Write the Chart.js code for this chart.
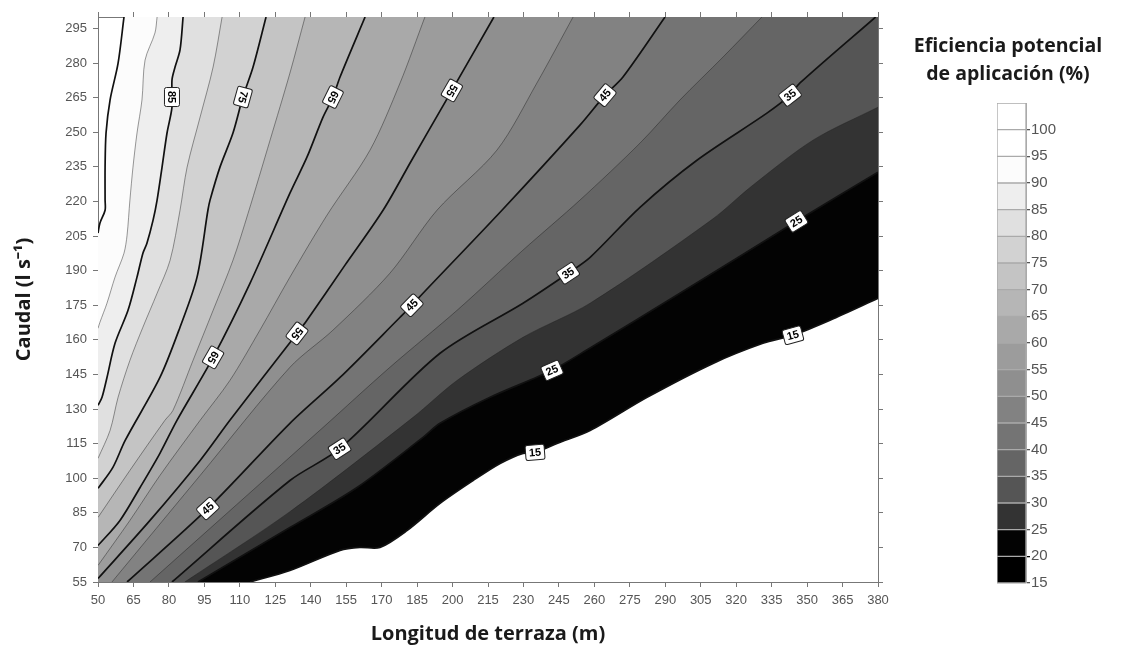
<!DOCTYPE html>
<html lang="es">
<head>
<meta charset="utf-8">
<title>Eficiencia potencial de aplicación</title>
<script src="https://cdn.jsdelivr.net/npm/chart.js@4.4.1/dist/chart.umd.min.js"></script>
<style>
  html, body { margin: 0; padding: 0; background: #fff; }
  #wrap { position: relative; width: 1126px; height: 650px; overflow: hidden; }
  #grafico { position: absolute; left: 0; top: 0; }
  #barra { position: absolute; left: 900px; top: 0; }
  #titulo { position: absolute; left: 898px; width: 220px; top: 31px; text-align: center;
            font: bold 19.5px 'Open Sans', sans-serif; line-height: 28px; color: #1a1a1a; }
</style>
</head>
<body>
<div id="wrap">
  <canvas id="grafico" width="900" height="650"></canvas>
  <canvas id="barra" width="226" height="650"></canvas>
  <div id="titulo">Eficiencia potencial<br>de aplicación (%)</div>
</div>
<script>
// ejes
var xTicks = [50, 65, 80, 95, 110, 125, 140, 155, 170, 185, 200, 215, 230, 245, 260, 275, 290, 305, 320, 335, 350, 365, 380];
var yTicks = [55, 70, 85, 100, 115, 130, 145, 160, 175, 190, 205, 220, 235, 250, 265, 280, 295];
var xMin = 50, xMax = 380, yMin = 55, yMax = 300;

// isolineas: [longitud (m), caudal (l/s)]
var c95 = [[50,206.3],[50.8,210.6],[53,216.2],[53,220.6],[53,234.9],[53.4,249.7],[55.1,264],[58.5,280],[61,300]];
var c90 = [[50,165],[50.8,167.6],[53.8,175.9],[57.2,187.2],[61,197.6],[62.3,205.4],[63.5,220.6],[64.8,234.9],[66.5,249.7],[68.6,264],[69.9,281.3],[74.1,293.1],[75,300]];
var c85 = [[50,131.6],[51.7,135.1],[53.8,143.7],[57.2,158.5],[62.7,172.8],[66.5,187.2],[69,197.6],[70.7,201.9],[73.3,211.9],[75,220.6],[77.1,234.9],[79.2,249.7],[81.3,260.9],[81.3,272.7],[82.6,278.3],[84.7,285.7],[86,300]];
var c80 = [[50,108.6],[55.1,120.7],[58.5,135.1],[63.5,151.1],[69,165.5],[75,180.2],[80.5,194.5],[84.7,216.2],[87.7,234.9],[93.2,256.6],[98.7,278.3],[102.5,300]];
var c75 = [[50,95.6],[56.3,104.7],[61.5,116.4],[76.2,143.7],[84.7,165.5],[91.9,187.2],[96.5,216.2],[97.4,220.6],[101.6,234.9],[107.1,249.7],[111.3,265.3],[115.6,278.3],[121.1,300]];
var c70 = [[50,83],[63.5,103.4],[78.3,125.1],[81.7,129.4],[90.2,151.1],[98.7,172.8],[107.1,194.5],[113.5,214.9],[122.8,246.6],[131.2,275.7],[137.6,300]];
var c65 = [[50,70.8],[59.3,81.7],[67.8,96],[76.2,110.8],[83.4,125.1],[98.7,152.4],[114.3,184.5],[131.2,223.6],[138.4,239.2],[145.2,256.6],[149.4,265.3],[152.4,274],[163,300]];
var c60 = [[50,62.2],[63.5,81.7],[76.2,101.2],[93.2,125.1],[105.8,142.4],[118.5,164.2],[131.2,187.2],[146.9,214.1],[165.1,242.3],[177.8,271.4],[188.3,300]];
var c55 = [[50,56.5],[72,81.7],[93.2,107.7],[105.8,125.1],[134.2,162.8],[138.4,168.5],[154.5,192.4],[170.6,216.2],[182.7,237.9],[194.9,259.6],[199.3,267.4],[217.5,300]];
var c50 = [[55.9,55],[93.2,101.2],[131.2,148.1],[149.4,164.2],[173.5,188.9],[193.4,216.2],[218.8,242.3],[235.7,271.4],[251,300]];
var c45 = [[62.3,55],[96.5,86.9],[131.2,123.8],[152.4,143.7],[177.8,169.8],[182.8,175],[187.5,180.2],[220.9,216.2],[253.9,253.1],[264.5,266.1],[272.1,274],[289.9,300]];
var c40 = [[72,55],[145.2,122],[173.5,148.1],[201.9,172.8],[229.8,198.9],[253.9,220.6],[279.3,245.3],[296.2,264],[314.4,282.6],[330.9,300]];
var c35 = [[81.3,55],[131.2,99],[152.4,112.9],[194.7,154.2],[229.8,175.9],[248.9,188.9],[258.2,195.8],[279.3,217.5],[303.4,237.9],[333,258.3],[342.8,266.1],[347,271.4],[379,300]];
var c30 = [[86.7,55],[131.2,85.5],[183.3,126.4],[201.9,142.4],[229.8,161.1],[258.2,175.9],[310.2,212.5],[326,226.2],[352.5,246.6],[380,260.9]];
var c25 = [[92.3,55],[131.2,78.6],[159.6,96],[187.5,117.7],[194.7,123.8],[215.9,135.1],[242.1,146.8],[258.2,156.5],[296.2,180.2],[345.7,211.5],[380,232.7]];
var c15 = [[114.3,55],[131.2,60],[152.4,68.7],[160.8,70],[169.3,70],[180.7,77.3],[194.7,89.1],[208.7,99],[220.1,106.4],[229.8,110.8],[234.9,111.2],[244.2,115.1],[258.2,120.7],[282.3,135.1],[310.2,149.8],[331.3,158.5],[344,162],[359.7,168.5],[380,178]];

var niveles = [95, 90, 85, 80, 75, 70, 65, 60, 55, 50, 45, 40, 35, 30, 25, 15];
var isolineas = [c95, c90, c85, c80, c75, c70, c65, c60, c55, c50, c45, c40, c35, c30, c25, c15];

// escala de colores (limite inferior de cada banda)
var bandas = [15, 20, 25, 30, 35, 40, 45, 50, 55, 60, 65, 70, 75, 80, 85, 90, 95, 100];
var colores = ['#000000', '#030303', '#333333', '#555555', '#656565', '#747474', '#828282', '#8f8f8f', '#9c9c9c',
               '#a9a9a9', '#b6b6b6', '#c4c4c4', '#d2d2d2', '#e0e0e0', '#eeeeee', '#fcfcfc', '#ffffff', '#ffffff'];

// etiquetas de las isolineas
var etiquetaNivel = [85, 75, 65, 55, 45, 35, 65, 55, 45, 35, 25, 45, 35, 25, 15, 15];
var etiquetaX = [81.3, 111.3, 149.4, 201, 264.5, 342.8, 98.7, 134.2, 182.8, 248.9, 345.7, 96.5, 152.4, 242.1, 234.9, 344];
var etiquetaY = [265.3, 265.3, 265.3, 267.4, 266.1, 266.1, 152.4, 162.8, 175, 188.9, 211, 86.9, 112.5, 146.8, 111.2, 162];

Chart.defaults.font.family = "'Liberation Sans', Arial, sans-serif";

function colorDebajo(nivel) {
	var i = bandas.indexOf(nivel - 5);
	return i < 0 ? '#ffffff' : colores[i];
}

function puntos(lista) {
	return lista.map(function (p) { return {x: p[0], y: p[1]}; });
}

// relleno de la zona con valor menor que cada nivel
var rellenos = niveles.map(function (nivel, i) {
	var pts = puntos(isolineas[i]);
	var ult = pts[pts.length - 1];
	if (ult.y >= yMax) {
		pts.push({x: ult.x, y: ult.y});
		pts.push({x: xMax, y: yMax});
	}
	return {
		data: pts, fill: 'start', backgroundColor: colorDebajo(nivel),
		borderColor: 'rgba(0,0,0,0)', borderWidth: 1, pointRadius: 0, tension: 0.3, order: 100 + nivel
	};
});

var lineas = niveles.map(function (nivel, i) {
	var fuerte = nivel % 10 === 5;
	return {
		data: puntos(isolineas[i]), fill: false,
		borderColor: fuerte ? '#111111' : 'rgba(30,30,30,0.45)',
		borderWidth: fuerte ? 1.7 : 1, pointRadius: 0, tension: 0.3, order: 0
	};
});

var etiquetas = {
	id: 'etiquetas',
	afterDatasetsDraw: function (chart) {
		var ctx = chart.ctx, sx = chart.scales.x, sy = chart.scales.y;
		etiquetaNivel.forEach(function (nivel, k) {
			var px = sx.getPixelForValue(etiquetaX[k]), py = sy.getPixelForValue(etiquetaY[k]);
			var linea = isolineas[niveles.indexOf(nivel)];
			var mejor = Infinity, ang = 0, qx = px, qy = py;
			for (var j = 0; j < linea.length - 1; j++) {
				var ax = sx.getPixelForValue(linea[j][0]), ay = sy.getPixelForValue(linea[j][1]);
				var bx = sx.getPixelForValue(linea[j + 1][0]), by = sy.getPixelForValue(linea[j + 1][1]);
				var dx = bx - ax, dy = by - ay, l2 = dx * dx + dy * dy;
				if (!l2) continue;
				var t = Math.max(0, Math.min(1, ((px - ax) * dx + (py - ay) * dy) / l2));
				var cx = ax + t * dx, cy = ay + t * dy;
				var d = (px - cx) * (px - cx) + (py - cy) * (py - cy);
				if (d < mejor) { mejor = d; ang = Math.atan2(dy, dx); qx = cx; qy = cy; }
			}
			if (ang < -0.9) ang += Math.PI;
			ctx.save();
			ctx.translate(qx, qy);
			ctx.rotate(ang);
			ctx.fillStyle = '#ffffff';
			ctx.strokeStyle = '#222222';
			ctx.lineWidth = 1;
			ctx.beginPath();
			ctx.roundRect(-9.5, -7.5, 19, 15, 2);
			ctx.fill();
			ctx.stroke();
			ctx.fillStyle = '#000000';
			ctx.font = "bold 11px 'Liberation Sans', Arial, sans-serif";
			ctx.textAlign = 'center';
			ctx.textBaseline = 'middle';
			ctx.fillText(String(nivel), 0, 0.5);
			ctx.restore();
		});
	}
};

var ejeGris = '#777777';
var tituloFuente = { family: "'Open Sans', sans-serif", size: 20, weight: 'bold' };

new Chart(document.getElementById('grafico'), {
	type: 'line',
	data: { datasets: rellenos.concat(lineas) },
	options: {
		responsive: false,
		animation: false,
		events: [],
		layout: { padding: 0 },
		plugins: { legend: { display: false }, tooltip: { enabled: false } },
		scales: {
			x: {
				type: 'linear', position: 'bottom', min: xMin, max: xMax, z: 1,
				afterBuildTicks: function (s) { s.ticks = xTicks.map(function (v) { return {value: v}; }); },
				afterFit: function (s) { s.height = 68; },
				ticks: { autoSkip: false, maxRotation: 0, color: '#555555', font: { size: 13 }, padding: 6 },
				grid: { drawOnChartArea: false, tickLength: 5, color: ejeGris },
				border: { color: ejeGris },
				title: {
					display: true, text: 'Longitud de terraza (m)', color: '#1a1a1a',
					font: tituloFuente, padding: { top: 0, bottom: 4 }
				}
			},
			x2: {
				type: 'linear', position: 'top', min: xMin, max: xMax, z: 1,
				afterBuildTicks: function (s) { s.ticks = xTicks.map(function (v) { return {value: v}; }); },
				afterFit: function (s) { s.height = 17; },
				ticks: { display: false },
				grid: { drawOnChartArea: false, tickLength: 5, color: ejeGris },
				border: { color: ejeGris }
			},
			y: {
				type: 'linear', position: 'left', min: yMin, max: yMax, z: 1,
				afterBuildTicks: function (s) { s.ticks = yTicks.map(function (v) { return {value: v}; }); },
				afterFit: function (s) { s.width = 98; },
				ticks: { autoSkip: false, color: '#555555', font: { size: 13 }, padding: 6 },
				grid: { drawOnChartArea: false, tickLength: 5, color: ejeGris },
				border: { color: ejeGris },
				title: {
					display: true, text: 'Caudal (l s\u207B\u00B9)', color: '#1a1a1a',
					font: tituloFuente, padding: { top: 12, bottom: 0 }
				}
			},
			y2: {
				type: 'linear', position: 'right', min: yMin, max: yMax, z: 1,
				afterBuildTicks: function (s) { s.ticks = yTicks.map(function (v) { return {value: v}; }); },
				afterFit: function (s) { s.width = 22; },
				ticks: { display: false },
				grid: { drawOnChartArea: false, tickLength: 5, color: ejeGris },
				border: { color: ejeGris }
			}
		}
	},
	plugins: [etiquetas]
});

// barra de colores
new Chart(document.getElementById('barra'), {
	type: 'bar',
	data: {
		labels: [''],
		datasets: bandas.map(function (b, i) {
			return {
				data: [[b, b + 5]], backgroundColor: colores[i], borderColor: '#aaaaaa', borderWidth: 1,
				borderSkipped: false, grouped: false, barPercentage: 1, categoryPercentage: 1
			};
		})
	},
	options: {
		responsive: false,
		animation: false,
		events: [],
		layout: { padding: { left: 97, top: 103, bottom: 67, right: 0 } },
		plugins: { legend: { display: false }, tooltip: { enabled: false } },
		scales: {
			x: { display: false },
			y: {
				position: 'right', min: 15, max: 105, z: 1,
				afterBuildTicks: function (s) { s.ticks = bandas.map(function (v) { return {value: v}; }); },
				afterFit: function (s) { s.width = 100; },
				ticks: { color: '#555555', font: { size: 15 }, padding: 1 },
				grid: {
					color: function (c) { return c.tick && c.tick.value === 20 ? '#000000' : '#555555'; },
					lineWidth: 1.3, tickLength: 4
				},
				border: { color: '#aaaaaa' }
			}
		}
	}
});
</script>
</body>
</html>
